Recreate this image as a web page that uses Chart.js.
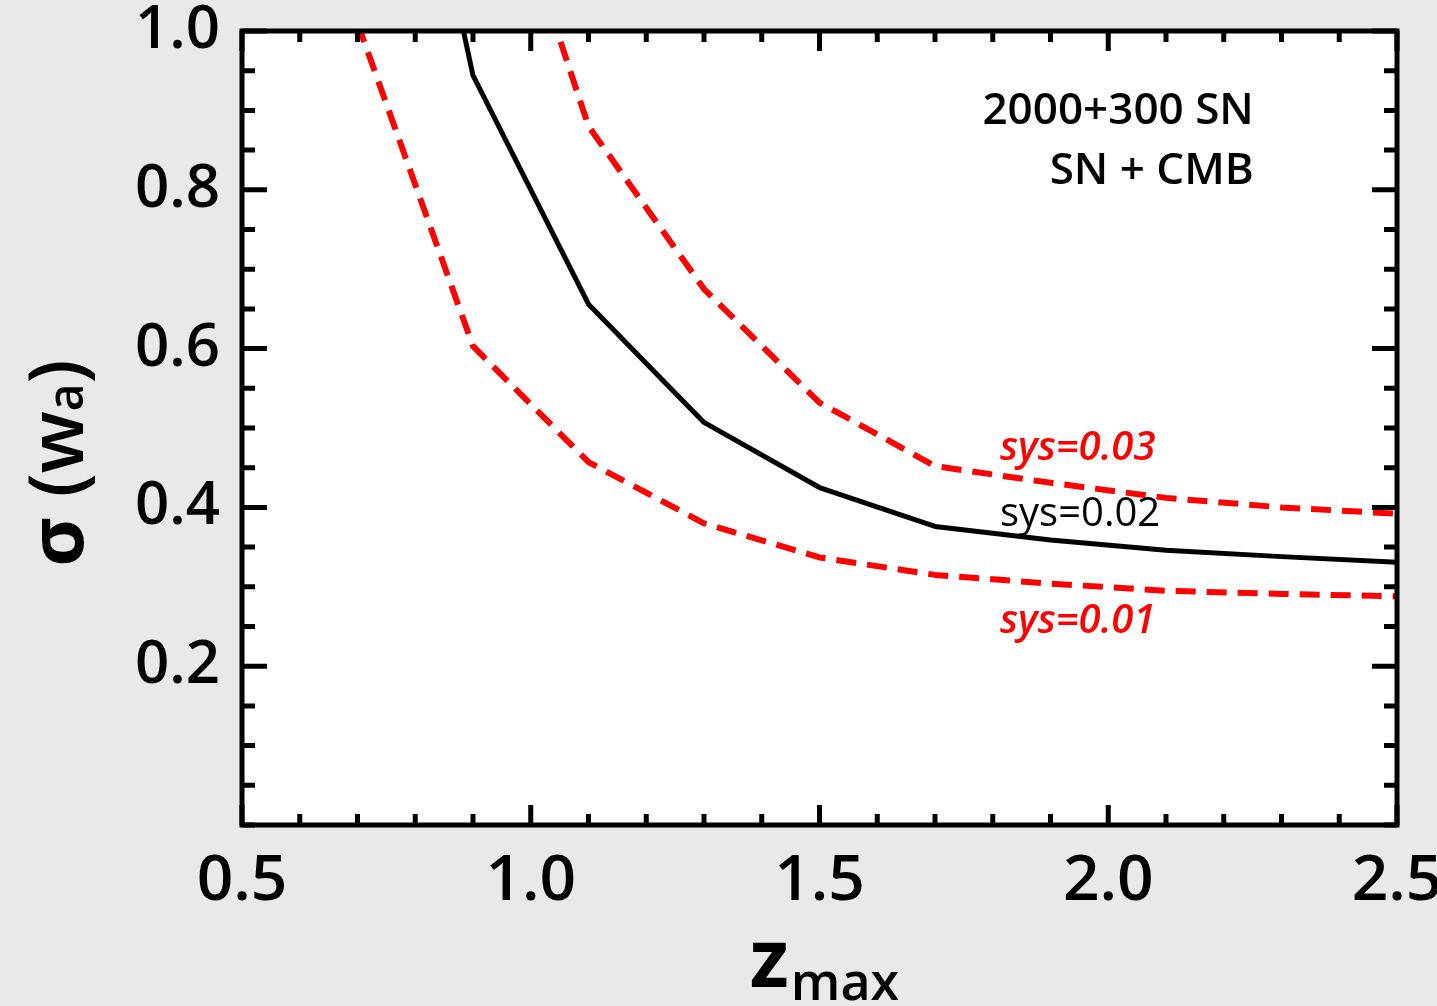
<!DOCTYPE html>
<html>
<head>
<meta charset="utf-8">
<script src="https://cdn.jsdelivr.net/npm/chart.js@4.4.1/dist/chart.umd.min.js"></script>
<style>
  html, body { margin: 0; padding: 0; background: #e9e9e9; }
  #wrap { width: 1437px; height: 1006px; }
</style>
</head>
<body>
<div id="wrap"><canvas id="c" width="1437" height="1006"></canvas></div>
<script>
// Maximum survey redshift and the forecast error on w_a for three systematic floors
const zmax  = [0.7, 0.9, 1.1, 1.3, 1.5, 1.7, 1.9, 2.1, 2.3, 2.5];
const sys01 = [1.01, 0.603, 0.457, 0.380, 0.337, 0.315, 0.304, 0.295, 0.291, 0.288];
const sys02 = [1.62, 0.944, 0.656, 0.507, 0.425, 0.376, 0.359, 0.346, 0.338, 0.331];
const sys03 = [null, 1.32, 0.880, 0.675, 0.532, 0.452, 0.431, 0.412, 0.400, 0.392];

// Axis tick positions / labels
const xMajorTicks = [0.5, 1.0, 1.5, 2.0, 2.5];
const yMajorTicks = [0.2, 0.4, 0.6, 0.8, 1.0];

// Text annotations (placed in data coordinates)
const surveyLines = ['2000+300 SN', 'SN + CMB'];
const curveLabels = ['sys=0.01', 'sys=0.02', 'sys=0.03'];

const FONT = '"Open Sans", "Noto Sans", "DejaVu Sans", sans-serif';

function near(v, list) { return list.some(m => Math.abs(v - m) < 1e-6); }
function pts(ys) { return zmax.map((z, i) => ({ x: z, y: ys[i] })); }

const lineBase = { pointRadius: 0, fill: false, tension: 0, clip: 0, borderCapStyle: 'butt', borderJoinStyle: 'round' };

const decor = {
  id: 'decor',
  beforeDraw(chart) {
    const { ctx, chartArea: a } = chart;
    ctx.save();
    ctx.fillStyle = '#e9e9e9';
    ctx.fillRect(0, 0, chart.width, chart.height);
    ctx.fillStyle = '#ffffff';
    ctx.fillRect(a.left, a.top, a.right - a.left, a.bottom - a.top);
    ctx.restore();
  },
  afterDatasetsDraw(chart) {
    const { ctx, chartArea: a, scales: { x, y } } = chart;
    ctx.save();
    ctx.strokeStyle = '#000';
    ctx.lineWidth = 5;
    ctx.lineCap = 'butt';
    ctx.beginPath();
    x.ticks.forEach(t => {
      const px = x.getPixelForValue(t.value);
      const len = near(t.value, xMajorTicks) ? 20 : 11;
      ctx.moveTo(px, a.bottom); ctx.lineTo(px, a.bottom - len);
      ctx.moveTo(px, a.top);    ctx.lineTo(px, a.top + len);
    });
    y.ticks.forEach(t => {
      const py = y.getPixelForValue(t.value);
      const len = near(t.value, yMajorTicks) ? 25 : 13;
      ctx.moveTo(a.left, py);  ctx.lineTo(a.left + len, py);
      ctx.moveTo(a.right, py); ctx.lineTo(a.right - len, py);
    });
    ctx.stroke();
    ctx.lineWidth = 5;
    ctx.strokeRect(a.left, a.top, a.right - a.left, a.bottom - a.top);
    ctx.restore();
  },
  afterDraw(chart) {
    const { ctx, chartArea: a, scales: { x, y } } = chart;
    ctx.save();
    ctx.textBaseline = 'alphabetic';

    // survey description, top right
    ctx.fillStyle = '#000';
    ctx.textAlign = 'right';
    ctx.font = `600 44px ${FONT}`;
    ctx.fillText(surveyLines[0], x.getPixelForValue(2.252), y.getPixelForValue(0.883));
    ctx.fillText(surveyLines[1], x.getPixelForValue(2.252), y.getPixelForValue(0.807));

    // curve labels
    ctx.textAlign = 'left';
    const lx = x.getPixelForValue(1.8125);
    ctx.font = `italic 600 40px ${FONT}`;
    ctx.fillStyle = '#ff0000';
    ctx.fillText(curveLabels[2], lx, y.getPixelForValue(0.460));
    ctx.fillText(curveLabels[0], lx, y.getPixelForValue(0.242));
    ctx.font = `500 40px ${FONT}`;
    ctx.fillStyle = '#000';
    ctx.fillText(curveLabels[1], lx, y.getPixelForValue(0.376));

    // x axis title: z_max
    const fz = `700 80px ${FONT}`, fm = `600 52px ${FONT}`;
    ctx.font = fz; const wz = ctx.measureText('z').width;
    ctx.font = fm; const wm = ctx.measureText('max').width;
    const cx = (a.left + a.right) / 2;
    const x0 = cx - (wz + wm) / 2 + 4;
    ctx.font = fz; ctx.fillText('z', x0, 987);
    ctx.font = fm; ctx.fillText('max', x0 + wz + 2, 1000);

    // y axis title: σ (w_a), rotated
    ctx.translate(83, 463);
    ctx.rotate(-Math.PI / 2);
    const fs = `700 76px ${FONT}`, fp = `600 76px ${FONT}`, fa = `600 48px ${FONT}`;
    const parts = [['σ', fs], [' (w', fp], ['a', fa], [')', fp]];
    let total = 0;
    parts.forEach(p => { ctx.font = p[1]; p.push(ctx.measureText(p[0]).width); total += p[2]; });
    let cur = -total / 2;
    parts.forEach(p => { ctx.font = p[1]; ctx.fillText(p[0], cur, 0); cur += p[2]; });
    ctx.restore();
  }
};

new Chart(document.getElementById('c'), {
  type: 'line',
  data: {
    datasets: [
      Object.assign({ label: curveLabels[0], data: pts(sys01), borderColor: '#ff0000', borderWidth: 6, borderDash: [20, 11] }, lineBase),
      Object.assign({ label: curveLabels[1], data: pts(sys02), borderColor: '#000000', borderWidth: 5 }, lineBase),
      Object.assign({ label: curveLabels[2], data: pts(sys03), borderColor: '#ff0000', borderWidth: 6, borderDash: [20, 11] }, lineBase)
    ]
  },
  options: {
    responsive: false,
    animation: false,
    devicePixelRatio: 1,
    layout: { padding: { top: 31, right: 40, left: 0, bottom: 0 } },
    plugins: { legend: { display: false }, tooltip: { enabled: false } },
    scales: {
      x: {
        type: 'linear', min: 0.5, max: 2.5,
        grid: { display: false, drawTicks: false },
        border: { display: false },
        ticks: {
          stepSize: 0.1, autoSkip: false, maxRotation: 0, padding: 18, color: '#000',
          font: { family: FONT, size: 64, weight: 600 },
          callback: v => near(v, xMajorTicks) ? v.toFixed(1) : ''
        },
        afterFit(s) { s.height = 181; s.paddingLeft = 0; s.paddingRight = 0; }
      },
      y: {
        type: 'linear', min: 0, max: 1,
        grid: { display: false, drawTicks: false },
        border: { display: false },
        ticks: {
          stepSize: 0.05, autoSkip: false, padding: 22, color: '#000',
          font: { family: FONT, size: 60, weight: 600 },
          callback: v => near(v, yMajorTicks) ? v.toFixed(1) : ''
        },
        afterFit(s) { s.width = 242; s.paddingTop = 0; s.paddingBottom = 0; }
      }
    }
  },
  plugins: [decor]
});
</script>
</body>
</html>
